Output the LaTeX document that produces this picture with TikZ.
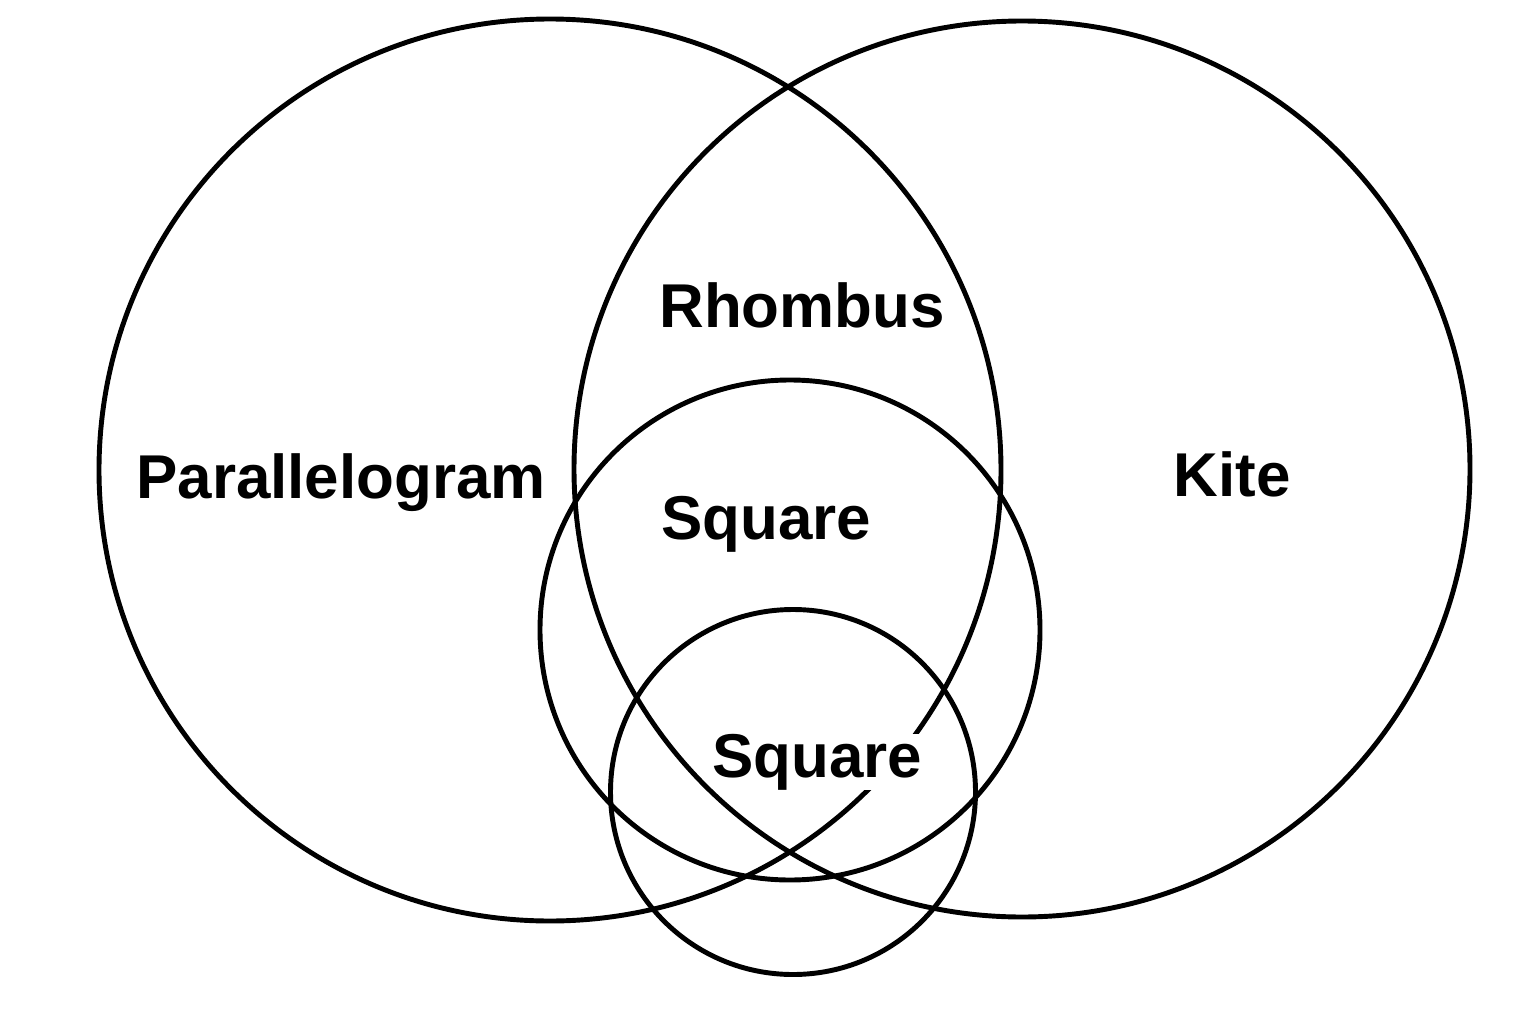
\documentclass[tikz,border=0pt]{standalone}
\usepackage{fontspec}
\setmainfont{Liberation Sans}
\begin{document}
\begin{tikzpicture}
[x=0.01cm,y=-0.01cm,
  setdecorate/.style={shape=circle,inner sep=0pt,draw,line width=1.4pt},%
  labeldecorate/.style={inner sep=0pt,anchor=base,font=\fontsize{17.6}{20}\selectfont\bfseries}]
\useasboundingbox (0,0) rectangle (1536,1024);
%% sets drawn under the labels
\foreach \setname/\x/\y/\d in {para/550/470/902, sqbig/790/630/500, sqsmall/793/792/365} {
  \node (\setname) at (\x,\y) [setdecorate,minimum size=\d*0.01cm] {};
}
%% labels
\node (rhombus) at (802,327) [labeldecorate] {Rhombus};
\node (parallelogram) at (341,498) [labeldecorate] {Parallelogram};
\node (kitelabel) at (1232,496) [labeldecorate] {Kite};
\node (square1) at (766,539) [labeldecorate] {Square};
\node (square2) at (817,777) [labeldecorate,fill=white] {Square};
%% kite set drawn on top
\node (kite) at (1022,469) [setdecorate,minimum size=896*0.01cm] {};
\end{tikzpicture}
\end{document}
